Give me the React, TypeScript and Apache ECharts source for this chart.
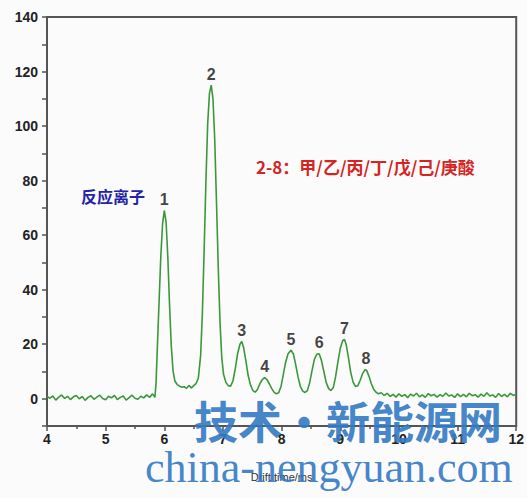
import React, { useEffect, useRef } from "react";
import * as echarts from "echarts";

// Drift time (ms) and signal values
const driftTime = [
  4.0, 4.05, 4.1, 4.15, 4.2, 4.25, 4.3, 4.35, 4.4, 4.45, 4.5, 4.55, 4.6, 4.65, 4.7, 4.75, 4.8, 4.85, 4.9, 4.95,
  5.0, 5.05, 5.1, 5.15, 5.2, 5.25, 5.3, 5.35, 5.4, 5.45, 5.5, 5.55, 5.6, 5.65, 5.7, 5.75, 5.8, 5.84,
  5.86, 5.88, 5.91, 5.94, 5.97, 6.0, 6.03, 6.06, 6.09, 6.12, 6.15, 6.18, 6.22, 6.26, 6.3, 6.34, 6.38, 6.42, 6.46, 6.5, 6.54, 6.58,
  6.62, 6.65, 6.68, 6.71, 6.74, 6.77, 6.8, 6.83, 6.86, 6.89, 6.92, 6.95, 6.98, 7.01, 7.05, 7.09, 7.13, 7.17,
  7.21, 7.25, 7.29, 7.32, 7.35, 7.39, 7.43, 7.47, 7.51, 7.55, 7.59,
  7.63, 7.67, 7.71, 7.75, 7.79, 7.83, 7.87, 7.91, 7.95, 7.99,
  8.03, 8.07, 8.11, 8.16, 8.2, 8.24, 8.28, 8.32, 8.36, 8.4, 8.44,
  8.48, 8.52, 8.56, 8.6, 8.64, 8.68, 8.72, 8.76, 8.8, 8.84, 8.88,
  8.92, 8.96, 9.0, 9.04, 9.07, 9.1, 9.14, 9.18, 9.22, 9.26, 9.3,
  9.34, 9.38, 9.42, 9.45, 9.49, 9.53, 9.57, 9.61, 9.65,
  9.7, 9.75, 9.8, 9.85, 9.9, 9.95, 10.0, 10.05, 10.1, 10.15, 10.2, 10.25, 10.3, 10.35, 10.4, 10.45, 10.5, 10.55,
  10.6, 10.65, 10.7, 10.75, 10.8, 10.85, 10.9, 10.95, 11.0, 11.05, 11.1, 11.15, 11.2, 11.25, 11.3, 11.35, 11.4,
  11.45, 11.5, 11.55, 11.6, 11.65, 11.7, 11.75, 11.8, 11.85, 11.9, 11.95, 12.0,
];
const signal = [
  0.8, 0.2, 1.0, -0.5, 0.6, 1.4, 0.1, 0.9, -0.3, 0.7, 1.2, 0.0, 0.8, -0.6, 0.5, 1.1, -0.2, 0.6, 1.3, 0.1,
  -0.4, 0.9, 0.3, 1.2, -0.3, 0.5, 1.0, -0.5, 0.4, 1.3, 0.2, -0.2, 0.9, 0.3, 1.4, 0.5, 1.8, 0.5,
  6, 18, 35, 52, 64, 69, 65, 52, 34, 19, 10, 6.5, 5.2, 4.6, 4.2, 4.4, 3.8, 4.9, 3.9, 4.8, 5.5, 7.5,
  16, 32, 55, 80, 101, 112, 115, 110, 95, 72, 48, 28, 15, 9, 6, 4.8, 4.6, 6.5,
  11, 16.5, 20, 21, 19, 14, 8.5, 5, 3, 2.4, 3.5,
  5.5, 7, 7.8, 7, 5.5, 3.8, 2.4, 1.8, 2.2, 4.5,
  9, 13.5, 16.5, 17.8, 16.5, 12.5, 8, 4.5, 2.8, 2.3, 3,
  6, 10.5, 14.5, 16.3, 16.5, 14, 10, 6, 3.8, 3.0, 4,
  8, 13.5, 18.5, 21.2, 21.8, 20, 15, 9.5, 6, 4.5, 4.8,
  6.8, 9.2, 10.6, 10.4, 8.2, 5.5, 3.5, 2.4, 1.8,
  2.2, 1.2, 2.0, 0.8, 1.6, 0.6, 1.8, 0.9, 1.5, 0.4, 1.7, 1.0, 2.0, 0.7, 1.4, 0.5, 1.9, 1.1,
  1.6, 0.6, 1.5, 0.9, 2.1, 1.0, 1.4, 0.5, 1.8, 0.8, 1.6, 0.7, 2.0, 1.1, 1.5, 0.6, 1.7,
  0.9, 2.2, 1.0, 1.4, 0.5, 1.9, 0.8, 1.6, 0.7, 2.0, 1.2, 1.6,
];

// Peak annotations
const peakX = [6.0, 6.8, 7.32, 7.71, 8.16, 8.64, 9.07, 9.44];
const peakY = [69, 115, 21, 7.8, 17.8, 16.5, 21.8, 10.6];
const peakLabels = ["1", "2", "3", "4", "5", "6", "7", "8"];

const xTicks = { min: 4, max: 12, interval: 1 };
const yTicks = { min: -10, max: 140, interval: 10, labelStep: 20 };

const xName = "Drift time/ms";
const noteIon = "反应离子";
const noteAcids = "2-8：甲/乙/丙/丁/戊/己/庚酸";
const watermark1 = "技术·新能源网";
const watermark2 = "china-nengyuan.com";

export default function App() {
  const ref = useRef<HTMLDivElement>(null);
  useEffect(() => {
    if (!ref.current) return;
    const chart = echarts.init(ref.current, undefined, { renderer: "svg" });
    const lineData = driftTime.map((x, i) => [x, signal[i]]);
    const peakData = peakX.map((x, i) => [x, peakY[i], peakLabels[i]]);
    const axisColor = "#555";
    const labelStyle = {
      color: "#222",
      fontFamily: "Liberation Sans, Arial, sans-serif",
      fontWeight: "bold" as const,
      fontSize: 14,
    };
    chart.setOption({
      animation: false,
      backgroundColor: "#fbfbfb",
      grid: {
        left: 47,
        right: 7,
        top: 17,
        bottom: 72,
        show: true,
        borderColor: axisColor,
        borderWidth: 2,
        backgroundColor: "transparent",
      },
      xAxis: {
        type: "value",
        min: xTicks.min,
        max: xTicks.max,
        interval: xTicks.interval,
        axisLine: { onZero: false, lineStyle: { color: axisColor, width: 2 } },
        axisTick: { inside: false, length: 5, lineStyle: { color: axisColor, width: 1.5 } },
        minorTick: { show: true, splitNumber: 2, length: 3, lineStyle: { color: axisColor, width: 1.5 } },
        splitLine: { show: false },
        axisLabel: { ...labelStyle, margin: 6 },
        name: xName,
        nameLocation: "middle",
        nameGap: 45,
        nameTextStyle: {
          color: "#333",
          fontSize: 11,
          fontFamily: "Liberation Sans, Arial, sans-serif",
        },
      },
      yAxis: {
        type: "value",
        min: yTicks.min,
        max: yTicks.max,
        interval: yTicks.interval,
        axisLine: { onZero: false, lineStyle: { color: axisColor, width: 2 } },
        axisTick: { inside: false, length: 5, lineStyle: { color: axisColor, width: 1.5 } },
        splitLine: { show: false },
        axisLabel: {
          ...labelStyle,
          margin: 9,
          showMaxLabel: true,
          formatter: (v: number) => (v >= 0 && v % yTicks.labelStep === 0 ? String(v) : ""),
        },
      },
      series: [
        {
          type: "line",
          data: lineData,
          showSymbol: false,
          symbol: "none",
          lineStyle: { color: "#3a983a", width: 1.6 },
          z: 3,
        },
        {
          type: "scatter",
          data: peakData,
          symbolSize: 0.1,
          itemStyle: { color: "transparent" },
          label: {
            show: true,
            position: "top",
            distance: 3,
            formatter: (p: any) => p.data[2],
            color: "#111",
            fontSize: 16,
            fontWeight: "bold",
            fontFamily: "Liberation Sans, Arial, sans-serif",
          },
          z: 4,
        },
      ],
      graphic: [
        {
          type: "text",
          left: 81,
          top: 188,
          style: {
            text: noteIon,
            fill: "#2323a6",
            font: "bold 16px 'Noto Sans CJK SC'",
          },
          z: 10,
        },
        {
          type: "text",
          left: 256,
          top: 158,
          style: {
            text: noteAcids,
            fill: "#d42424",
            font: "bold 17px 'Noto Sans CJK SC'",
          },
          z: 10,
        },
        {
          type: "text",
          x: 194,
          y: 420,
          style: {
            text: watermark1,
            fill: "rgba(52,122,196,0.92)",
            font: "bold 44px 'Noto Sans CJK SC'",
            verticalAlign: "middle",
          },
          z: 20,
        },
        {
          type: "text",
          x: 145,
          y: 467,
          style: {
            text: watermark2,
            fill: "rgba(52,122,196,0.92)",
            font: "44px 'Liberation Serif', 'Times New Roman', serif",
            verticalAlign: "middle",
          },
          z: 20,
        },
      ],
    });
    return () => chart.dispose();
  }, []);
  return (
    <div
      ref={ref}
      style={{ position: "fixed", left: 0, top: 0, width: 527, height: 498 }}
    />
  );
}
